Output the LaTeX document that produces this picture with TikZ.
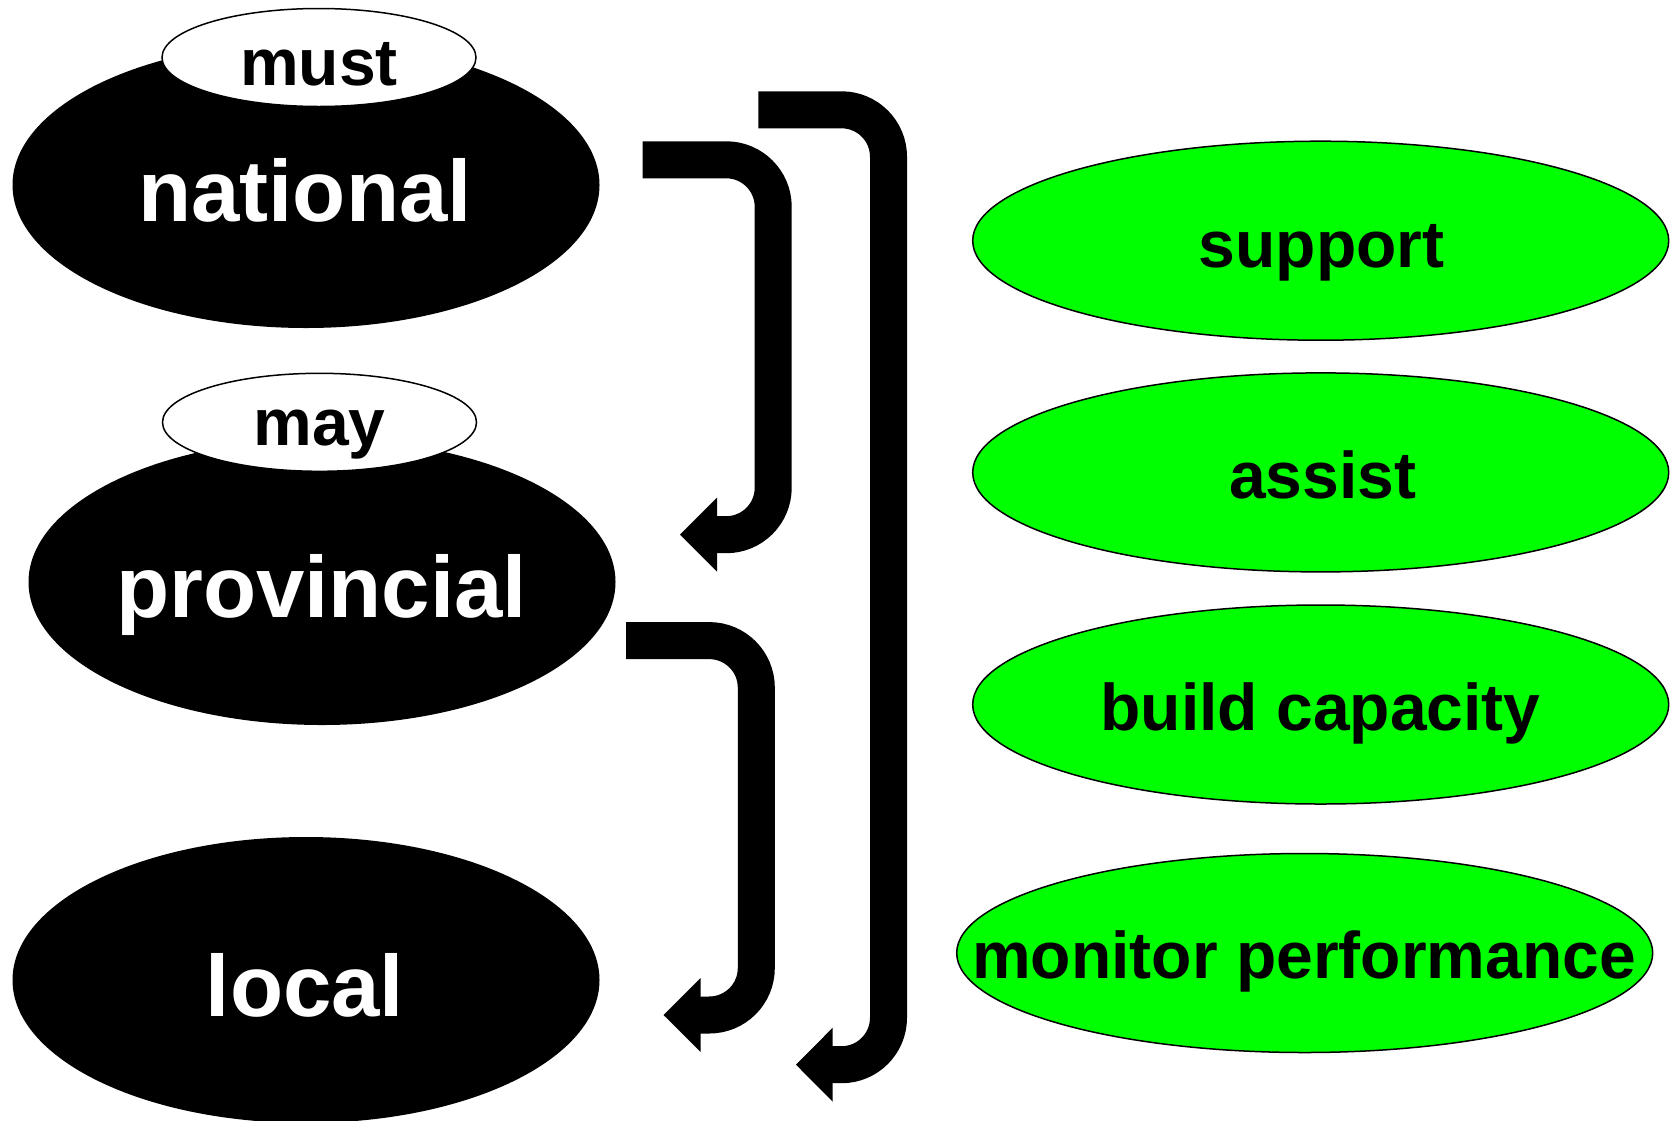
\documentclass[tikz,border=0pt]{standalone}
\usepackage{fontspec}
\setmainfont{Liberation Sans}
\usetikzlibrary{shapes.geometric}
\definecolor{brightgreen}{RGB}{0,255,0}
\begin{document}
\begin{tikzpicture}[x=1pt,y=-1pt,
 level/.style={ellipse, fill=black, inner sep=0pt, minimum width=587pt, minimum height=286pt},
 modal/.style={ellipse, draw=black, line width=1.5pt, fill=white, inner sep=0pt, minimum width=314pt, minimum height=98pt},
 act/.style={ellipse, draw=black, line width=1.5pt, fill=brightgreen, inner sep=0pt, minimum width=696pt, minimum height=199pt},
 bigtext/.style={font=\fontsize{87}{87}\selectfont\bfseries, text=white, anchor=base, inner sep=0pt},
 smalltext/.style={font=\fontsize{66}{66}\selectfont\bfseries, text=black, anchor=base, inner sep=0pt},
 band/.style={line width=37pt, rounded corners=47pt},
 headtip/.style={fill=black}]
\useasboundingbox (0,0) rectangle (1670,1120);

% left level ellipses
\node[level] (national) at (306,185) {};
\node[modal] (must) at (319,57.5) {};
\node[level] (provincial) at (322,582) {};
\node[modal] (may) at (319.5,422.3) {};
\node[level] (local) at (306,980) {};

\node[bigtext] (nationalT) at (305,221.5) {national};
\node[smalltext] (mustT) at (319,85.2) {must};
\node[bigtext] (provincialT) at (321.6,617.7) {provincial};
\node[smalltext] (mayT) at (319.5,445) {may};
\node[bigtext] (localT) at (305,1016) {local};

% right action ellipses
\node[act] (support) at (1320.7,240.7) {};
\node[act] (assist) at (1320.7,472.4) {};
\node[act] (build) at (1320.7,704.5) {};
\node[act] (monitor) at (1304.7,953) {};

\node[smalltext] (supportT) at (1321.7,267) {support};
\node[smalltext] (assistT) at (1322.7,498.4) {assist};
\node[smalltext] (buildT) at (1320.6,730.6) {build capacity};
\node[smalltext] (monitorT) at (1304,978.7) {monitor performance};

% arrow 1: national -> provincial
\coordinate (a1s) at (642.7,159.8);
\coordinate (a1c1) at (773.2,159.8);
\coordinate (a1c2) at (773.2,534.7);
\coordinate (a1e) at (714,534.7);
\draw[band] (a1s) -- (a1c1) -- (a1c2) -- (a1e);
\fill[headtip] (717,497.7) -- (680,534.7) -- (717,571.7) -- cycle;

% arrow 2: provincial -> local
\coordinate (a2s) at (626,640.6);
\coordinate (a2c1) at (756.3,640.6);
\coordinate (a2c2) at (756.3,1015);
\coordinate (a2e) at (698,1015);
\draw[band] (a2s) -- (a2c1) -- (a2c2) -- (a2e);
\fill[headtip] (700.7,978) -- (663.5,1015) -- (700.7,1052) -- cycle;

% arrow 3: national -> local
\coordinate (a3s) at (758.3,109.8);
\coordinate (a3c1) at (888.5,109.8);
\coordinate (a3c2) at (888.5,1064.7);
\coordinate (a3e) at (830,1064.7);
\draw[band] (a3s) -- (a3c1) -- (a3c2) -- (a3e);
\fill[headtip] (832.7,1027.7) -- (796,1064.7) -- (832.7,1101.7) -- cycle;
\end{tikzpicture}
\end{document}
